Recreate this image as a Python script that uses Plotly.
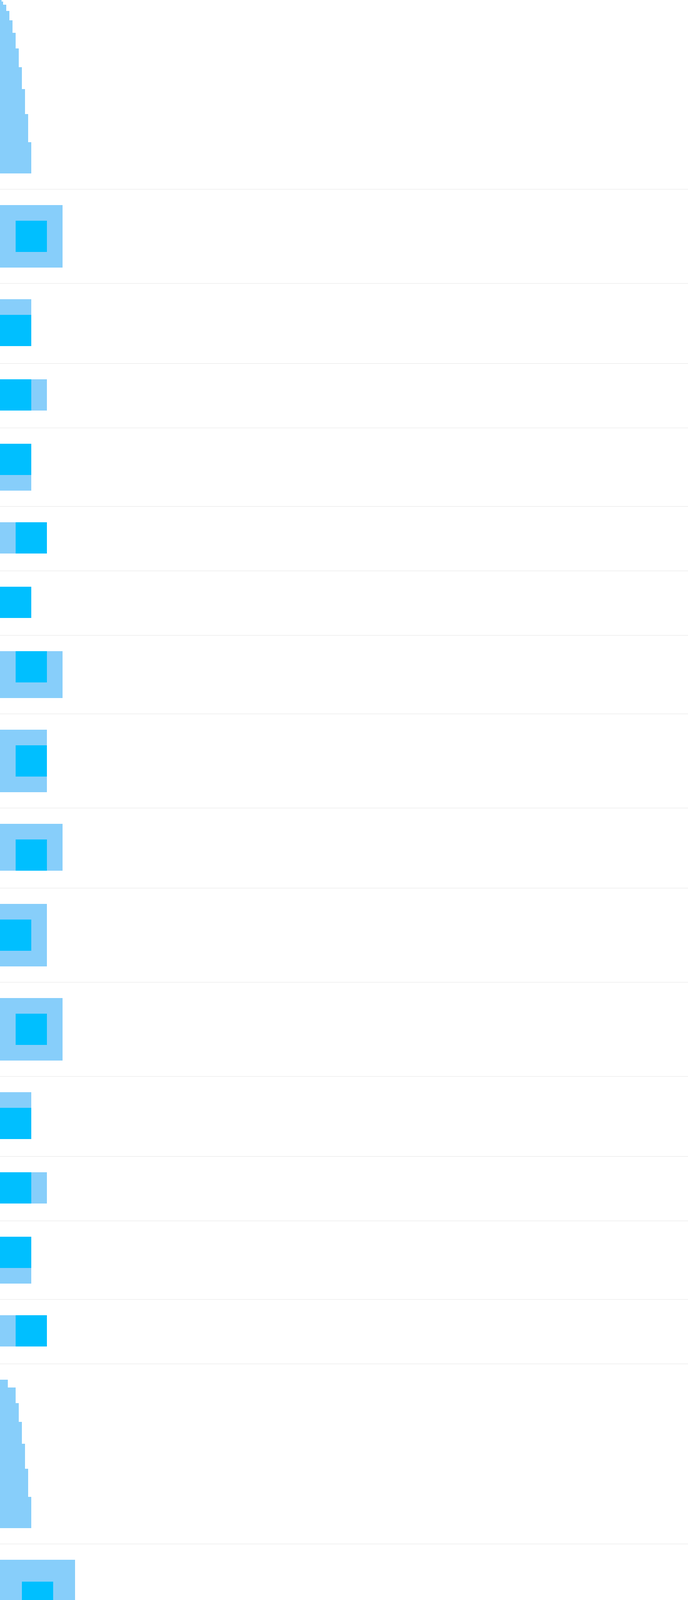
import plotly.graph_objects as go

# squares stacked at the head of each group (px)
top_stair_sizes = [4, 8, 16, 24, 32, 40, 48, 56, 64, 72, 80]
bottom_stair_sizes = [20, 40, 48, 56, 64, 72, 80]

# which sides of the inner box get padding, one entry per row (same for both groups)
row_sides = ["trbl", "t", "r", "b", "l", "", "rbl", "tbl", "trl", "trb", "trbl", "t", "r", "b", "l"]

# inner box size per row and padding amount per group
top_inner = [80, 80, 80, 80, 80, 80, 80, 80, 80, 80, 80, 80, 80, 80, 80]
bottom_inner = [80, 80, 80, 80, 80, 112, 112, 112, 112, 112, 80, 80, 80, 80, 80]
group_pad = [40, 56]

W, H = 1760, 7303
GAP = 40        # white space above and below each row
DESCENDER = 4   # extra space under boxes that sit on the baseline

stair = dict(x=[], base=[], y=[], w=[])
outer = dict(x=[], base=[], y=[], w=[])
inner = dict(x=[], base=[], y=[], w=[])
separators = []


def add(d, x0, y0, w, h):
    d["x"].append(w)
    d["base"].append(x0)
    d["y"].append(y0 + h / 2)
    d["w"].append(h)


y = 0
for g, (sizes, inners) in enumerate([(top_stair_sizes, top_inner), (bottom_stair_sizes, bottom_inner)]):
    pad = group_pad[g]
    for s in sizes:
        add(stair, 0, y, s, s)
        y += s
    y += GAP
    separators.append(y + 0.5)
    y += 1 + GAP
    for sides, size in zip(row_sides, inners):
        pl = pad if "l" in sides else 0
        pr = pad if "r" in sides else 0
        pt = pad if "t" in sides else 0
        pb = pad if "b" in sides else 0
        ow, oh = size + pl + pr, size + pt + pb
        add(outer, 0, y, ow, oh)
        add(inner, pl, y + pt, size, size)
        y += oh
        if "b" not in sides:
            y += DESCENDER
        y += GAP
        separators.append(y + 0.5)
        y += 1 + GAP

fig = go.Figure()
for d, col in [(stair, "#87cefa"), (outer, "#87cefa"), (inner, "#00bfff")]:
    fig.add_trace(go.Bar(orientation="h", x=d["x"], base=d["base"], y=d["y"], width=d["w"],
                         marker=dict(color=col, line=dict(width=0)), hoverinfo="skip", showlegend=False))

fig.update_layout(width=W, height=H, margin=dict(l=0, r=0, t=0, b=0), barmode="overlay",
                  paper_bgcolor="white", plot_bgcolor="white")
fig.update_xaxes(range=[0, W], showgrid=False, zeroline=False, showticklabels=False, ticks="")
fig.update_yaxes(range=[H, 0], tickmode="array", tickvals=separators, showgrid=True, gridcolor="#e4e4e4",
                 gridwidth=1, zeroline=False, showticklabels=False, ticks="")

# drop the default 8px page margin so the plot sits flush in the corner
fig.write_html("out.html", config={"displayModeBar": False},
               post_script="document.body.style.margin='0';document.body.style.overflow='hidden';")
